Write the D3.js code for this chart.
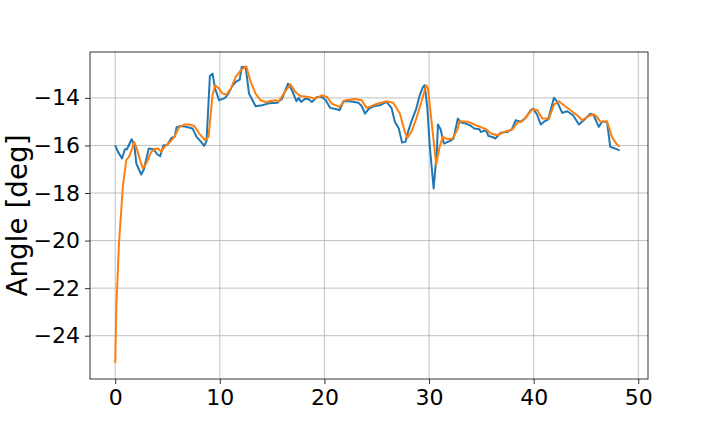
<!DOCTYPE html>
<html><head><meta charset="utf-8">
<script src="https://cdn.jsdelivr.net/npm/d3@7"></script>
<style>body{margin:0;background:#fff}svg{display:block}text{font-family:"DejaVu Sans",sans-serif}</style>
</head><body>
<svg id="c" width="720" height="432"></svg>
<script>
const xTicks = [0, 10, 20, 30, 40, 50];
const yTicks = [-24, -22, -20, -18, -16, -14];
const yLabel = "Angle [deg]";

const blueT = [0.0,0.27,0.65,0.93,1.12,1.57,1.83,2.02,2.49,2.74,3.21,3.66,4.01,4.30,4.61,4.96,5.40,5.68,5.87,6.29,6.77,7.40,7.78,8.13,8.51,8.73,9.05,9.30,9.55,9.93,10.50,10.82,11.14,11.52,11.90,12.09,12.47,12.79,13.42,14.05,14.69,15.48,15.95,16.52,16.90,17.32,17.54,17.76,18.17,18.49,18.80,19.28,19.75,20.13,20.55,21.18,21.44,21.82,22.45,23.24,23.56,23.88,24.26,24.76,25.30,25.93,26.41,26.73,27.11,27.42,27.74,27.99,28.31,28.78,29.11,29.42,29.58,29.83,30.06,30.44,30.75,30.85,31.10,31.42,31.96,32.34,32.75,33.07,33.54,34.01,34.33,34.81,34.96,35.44,35.67,36.07,36.33,36.62,36.86,37.50,37.91,38.29,38.76,39.24,39.71,39.97,40.35,40.67,40.99,41.40,41.94,42.25,42.73,43.20,43.77,44.32,44.79,45.42,45.74,46.22,46.53,47.01,47.32,47.79,48.21];
const blueV = [-16.0,-16.27,-16.55,-16.16,-16.16,-15.74,-15.99,-16.76,-17.22,-17.0,-16.13,-16.16,-16.37,-16.45,-15.99,-15.99,-15.67,-15.64,-15.23,-15.18,-15.21,-15.29,-15.64,-15.81,-16.02,-15.82,-13.08,-12.98,-13.61,-14.10,-14.0,-13.82,-13.54,-13.33,-13.23,-12.7,-12.7,-13.82,-14.35,-14.31,-14.23,-14.2,-14.03,-13.4,-13.68,-14.14,-14.0,-14.17,-14.03,-14.06,-14.17,-13.96,-13.96,-14.1,-14.42,-14.48,-14.52,-14.14,-14.14,-14.2,-14.34,-14.66,-14.45,-14.34,-14.31,-14.17,-14.42,-15.0,-15.29,-15.88,-15.85,-15.43,-15.0,-14.45,-13.89,-13.54,-13.47,-14.38,-15.99,-17.81,-16.2,-15.12,-15.32,-15.92,-15.82,-15.71,-14.87,-15.04,-15.08,-15.18,-15.29,-15.32,-15.43,-15.36,-15.6,-15.64,-15.71,-15.57,-15.46,-15.43,-15.32,-14.94,-15.0,-14.84,-14.52,-14.45,-14.73,-15.12,-15.0,-14.9,-13.99,-14.17,-14.63,-14.56,-14.73,-15.12,-14.94,-14.67,-14.73,-15.22,-15.0,-15.0,-16.06,-16.13,-16.21];

const orangeT = [0.0,0.11,0.36,0.59,0.74,1.06,1.31,1.63,1.79,2.02,2.33,2.64,2.97,3.44,3.75,4.13,4.39,4.71,5.18,5.66,6.13,6.61,7.08,7.56,8.03,8.60,8.92,9.30,9.55,9.93,10.25,10.63,11.05,11.52,12.0,12.53,12.95,13.42,13.90,14.37,15.32,15.64,16.11,16.75,17.22,17.70,18.49,19.13,19.75,20.23,20.70,21.44,21.98,22.93,23.56,24.03,24.83,25.93,26.57,27.21,27.68,27.93,28.31,28.78,29.26,29.73,29.90,30.21,30.68,31.01,31.32,31.80,32.27,32.75,32.91,33.70,34.49,35.44,35.91,36.55,37.19,37.98,38.45,38.93,39.40,39.88,40.35,40.82,41.46,41.94,42.42,42.89,43.52,44.16,44.63,45.27,45.74,46.06,46.37,47.01,47.48,47.89,48.21];
const orangeV = [-25.15,-22.77,-20.1,-18.65,-17.67,-16.62,-16.48,-16.13,-15.85,-16.06,-16.55,-16.97,-16.76,-16.27,-16.16,-16.13,-16.27,-16.06,-15.88,-15.64,-15.22,-15.12,-15.12,-15.18,-15.5,-15.78,-15.64,-13.89,-13.47,-13.61,-13.82,-13.86,-13.61,-13.12,-12.84,-12.67,-13.33,-13.82,-14.1,-14.17,-14.1,-14.14,-13.82,-13.42,-13.75,-13.92,-13.96,-14.03,-13.89,-13.96,-14.24,-14.38,-14.1,-14.05,-14.1,-14.42,-14.28,-14.14,-14.2,-14.66,-15.43,-15.68,-15.43,-14.87,-14.17,-13.47,-13.61,-14.87,-16.8,-16.06,-15.64,-15.74,-15.71,-15.29,-14.98,-15.0,-15.15,-15.32,-15.5,-15.57,-15.43,-15.32,-15.04,-14.98,-14.73,-14.48,-14.52,-14.87,-14.87,-14.28,-14.14,-14.31,-14.52,-14.73,-14.94,-14.76,-14.69,-14.8,-15.0,-14.98,-15.64,-15.92,-16.06];

const L = 90, R = 648, T = 52, B = 379;
const svg = d3.select("#c");
const x = d3.scaleLinear().domain([-2.41, 50.93]).range([L, R]);
const y = d3.scaleLinear().domain([-25.82, -12.07]).range([B, T]);
const fmt = d => d < 0 ? "\u2212" + Math.abs(d) : String(d);

// grid
svg.append("g").selectAll("line").data(xTicks).join("line")
  .attr("x1", d => x(d)).attr("x2", d => x(d)).attr("y1", T).attr("y2", B)
  .attr("stroke", "#b0b0b0").attr("stroke-width", 0.8);
svg.append("g").selectAll("line").data(yTicks).join("line")
  .attr("y1", d => y(d)).attr("y2", d => y(d)).attr("x1", L).attr("x2", R)
  .attr("stroke", "#b0b0b0").attr("stroke-width", 0.8);

const line = d3.line().x(d => x(d[0])).y(d => y(d[1]));
const clip = svg.append("clipPath").attr("id", "clp").append("rect")
  .attr("x", L).attr("y", T).attr("width", R - L).attr("height", B - T);
svg.append("path").datum(blueT.map((t, i) => [t, blueV[i]]))
  .attr("d", line).attr("fill", "none").attr("stroke", "#1f77b4")
  .attr("stroke-width", 2).attr("stroke-linejoin", "round").attr("clip-path", "url(#clp)");
svg.append("path").datum(orangeT.map((t, i) => [t, orangeV[i]]))
  .attr("d", line).attr("fill", "none").attr("stroke", "#ff7f0e")
  .attr("stroke-width", 2).attr("stroke-linejoin", "round").attr("clip-path", "url(#clp)");

// axes
const xa = d3.axisBottom(x).tickValues(xTicks).tickFormat(fmt).tickSize(5).tickPadding(5);
const ya = d3.axisLeft(y).tickValues(yTicks).tickFormat(fmt).tickSize(5).tickPadding(5);
const gx = svg.append("g").attr("transform", `translate(0,${B})`).call(xa);
const gy = svg.append("g").attr("transform", `translate(${L},0)`).call(ya);
[gx, gy].forEach(g => {
  g.select(".domain").remove();
  g.selectAll(".tick line").attr("stroke", "#000").attr("stroke-width", 0.8);
  g.selectAll(".tick text").attr("fill", "#000").attr("font-size", 22)
    .attr("font-family", "DejaVu Sans, sans-serif");
});
svg.append("rect").attr("x", L).attr("y", T).attr("width", R - L).attr("height", B - T)
  .attr("fill", "none").attr("stroke", "#000").attr("stroke-width", 0.8);

svg.append("text").attr("transform", `translate(27,${(T + B) / 2}) rotate(-90)`)
  .attr("text-anchor", "middle").attr("font-size", 27.8).attr("fill", "#000").text(yLabel);
</script>
</body></html>
